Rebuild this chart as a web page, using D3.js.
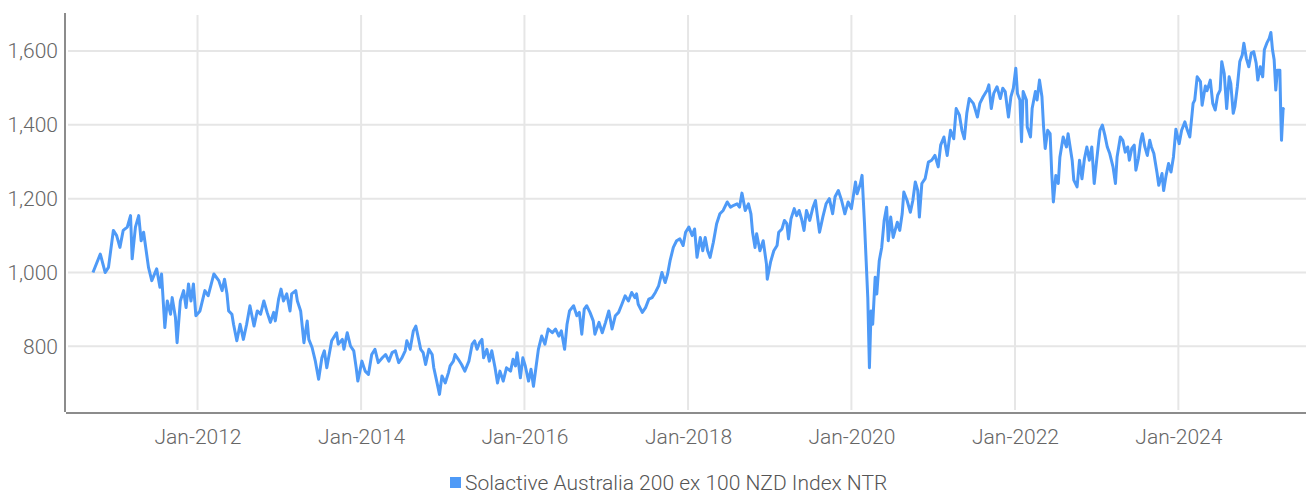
<!DOCTYPE html>
<html>
<head>
<meta charset="utf-8">
<script src="https://cdn.jsdelivr.net/npm/d3@7"></script>
<style>
  body { margin: 0; background: #fff; }
  svg text { font-family: Roboto, "Noto Sans", sans-serif; font-weight: 300; }
</style>
</head>
<body>
<div id="chart"></div>
<script>
// Index level, dates as decimal years
const years = [
  2010.72, 2010.81, 2010.87, 2010.91, 2010.97, 2011.01, 2011.05, 2011.09, 2011.14, 2011.18,
  2011.20, 2011.24, 2011.28, 2011.31, 2011.34, 2011.40, 2011.44, 2011.50, 2011.54, 2011.56,
  2011.60, 2011.63, 2011.67, 2011.69, 2011.73, 2011.75, 2011.79, 2011.83, 2011.86, 2011.89,
  2011.92, 2011.95, 2011.98, 2012.03, 2012.09, 2012.13, 2012.20, 2012.26, 2012.30, 2012.33,
  2012.36, 2012.38, 2012.42, 2012.44, 2012.48, 2012.52, 2012.56, 2012.60, 2012.64,
  2012.69, 2012.73, 2012.77, 2012.81, 2012.85, 2012.89, 2012.93, 2012.95, 2012.99, 2013.02,
  2013.05, 2013.09, 2013.13, 2013.15, 2013.20, 2013.22, 2013.26, 2013.30, 2013.34, 2013.36,
  2013.40, 2013.44, 2013.48, 2013.52, 2013.55, 2013.58, 2013.64, 2013.70, 2013.72, 2013.77,
  2013.79, 2013.83, 2013.87, 2013.91, 2013.94, 2013.96, 2014.01, 2014.05, 2014.09, 2014.13,
  2014.17, 2014.21, 2014.26, 2014.30, 2014.34, 2014.38, 2014.42, 2014.46, 2014.50, 2014.54,
  2014.56, 2014.60, 2014.64, 2014.67, 2014.70, 2014.73, 2014.76, 2014.79, 2014.83, 2014.87,
  2014.89, 2014.93, 2014.96, 2014.99, 2015.03, 2015.07,
  2015.09, 2015.13, 2015.15, 2015.19, 2015.23, 2015.27, 2015.32, 2015.36, 2015.39, 2015.42,
  2015.45, 2015.48, 2015.50, 2015.54, 2015.57, 2015.60, 2015.64, 2015.67, 2015.70, 2015.74,
  2015.78, 2015.83, 2015.86, 2015.89, 2015.91, 2015.95, 2015.98, 2016.01, 2016.05, 2016.08,
  2016.11, 2016.14, 2016.17, 2016.21, 2016.25, 2016.29, 2016.34, 2016.38, 2016.42, 2016.45,
  2016.49, 2016.52, 2016.55, 2016.60, 2016.64, 2016.67, 2016.70, 2016.73, 2016.76, 2016.80,
  2016.84, 2016.86, 2016.91, 2016.95, 2016.99, 2017.03, 2017.07, 2017.11, 2017.15, 2017.19,
  2017.23, 2017.27, 2017.31, 2017.35, 2017.37,
  2017.39, 2017.44, 2017.48, 2017.52, 2017.56, 2017.60, 2017.64, 2017.68, 2017.72, 2017.75,
  2017.78, 2017.82, 2017.86, 2017.90, 2017.94, 2017.97, 2018.01, 2018.05, 2018.08, 2018.11,
  2018.15, 2018.18, 2018.21, 2018.24, 2018.27, 2018.31, 2018.35, 2018.39, 2018.43, 2018.48,
  2018.52, 2018.56, 2018.60, 2018.63, 2018.66, 2018.70, 2018.74, 2018.77, 2018.79, 2018.82,
  2018.84, 2018.88, 2018.92, 2018.96, 2018.97, 2019.01, 2019.05, 2019.09, 2019.11, 2019.15,
  2019.18, 2019.21, 2019.23, 2019.26, 2019.30, 2019.33, 2019.36, 2019.39, 2019.42, 2019.45,
  2019.49, 2019.53, 2019.56, 2019.58, 2019.61, 2019.65, 2019.69, 2019.73,
  2019.77, 2019.80, 2019.84, 2019.88, 2019.92, 2019.96, 2020.00, 2020.05, 2020.07, 2020.11,
  2020.13, 2020.16, 2020.18, 2020.20, 2020.22, 2020.24, 2020.26, 2020.29, 2020.31, 2020.34,
  2020.37, 2020.40, 2020.43, 2020.45, 2020.48, 2020.51, 2020.56, 2020.59, 2020.62, 2020.64,
  2020.68, 2020.72, 2020.75, 2020.78, 2020.81, 2020.83, 2020.86, 2020.90, 2020.94, 2020.98,
  2021.02, 2021.06, 2021.09, 2021.13, 2021.17, 2021.21, 2021.25, 2021.28, 2021.32, 2021.35,
  2021.38, 2021.41, 2021.44, 2021.49, 2021.51, 2021.54, 2021.57, 2021.61, 2021.66, 2021.68,
  2021.71, 2021.74, 2021.78, 2021.82, 2021.85, 2021.88, 2021.92, 2021.95, 2021.98,
  2022.01, 2022.03, 2022.06, 2022.08, 2022.10, 2022.14, 2022.15, 2022.19, 2022.21, 2022.25,
  2022.27, 2022.30, 2022.33, 2022.35, 2022.37, 2022.40, 2022.43, 2022.45, 2022.47, 2022.50,
  2022.53, 2022.55, 2022.59, 2022.63, 2022.65, 2022.70, 2022.72, 2022.76, 2022.79, 2022.82,
  2022.85, 2022.88, 2022.91, 2022.94, 2022.97, 2023.00, 2023.04, 2023.07, 2023.10, 2023.13,
  2023.16, 2023.20, 2023.23, 2023.25, 2023.29, 2023.32, 2023.35, 2023.38, 2023.40, 2023.43,
  2023.46, 2023.48, 2023.51, 2023.54, 2023.56, 2023.59, 2023.62, 2023.65, 2023.67, 2023.70,
  2023.74, 2023.76, 2023.80, 2023.82, 2023.85, 2023.88, 2023.91, 2023.94, 2023.97, 2024.01,
  2024.04, 2024.08, 2024.11, 2024.14, 2024.18, 2024.20, 2024.23, 2024.27, 2024.29, 2024.33,
  2024.35, 2024.39, 2024.42, 2024.45, 2024.48, 2024.51, 2024.53, 2024.56, 2024.59, 2024.62,
  2024.64, 2024.67, 2024.69, 2024.72, 2024.75, 2024.78, 2024.80, 2024.83, 2024.86, 2024.89,
  2024.92, 2024.95, 2024.97, 2025.00, 2025.03, 2025.05, 2025.08, 2025.11, 2025.13, 2025.15,
  2025.17, 2025.19, 2025.21, 2025.24, 2025.25, 2025.26, 2025.28, 2025.29
];

const levels = [
  1000, 1050, 1000, 1014, 1114, 1100, 1068, 1114, 1123, 1154,
  1037, 1123, 1154, 1086, 1109, 1014, 978, 1010, 960, 996,
  851, 923, 887, 932, 878, 810, 923, 951, 905, 969,
  923, 969, 883, 896, 951, 937, 996, 978, 951, 982,
  942, 896, 887, 860, 815, 860, 819, 860, 910,
  855, 896, 887, 923, 892, 865, 892, 869, 928, 955,
  923, 942, 896, 942, 951, 923, 896, 810, 869, 819,
  797, 760, 711, 769, 788, 742, 815, 837, 806, 819,
  792, 837, 801, 788, 742, 706, 760, 733, 724, 778,
  792, 756, 769, 778, 760, 783, 788, 756, 769, 788,
  815, 792, 842, 855, 824, 792, 783, 751, 792, 778,
  742, 701, 670, 720, 701, 729,
  747, 760, 778, 765, 751, 733, 760, 806, 815, 792,
  810, 819, 769, 792, 760, 788, 742, 701, 733, 706,
  742, 733, 765, 747, 783, 715, 769, 747, 706, 738,
  692, 742, 792, 828, 806, 847, 837, 847, 828, 842,
  792, 860, 896, 910, 883, 892, 833, 901, 910, 892,
  869, 833, 865, 837, 865, 896, 847, 883, 892, 914,
  937, 923, 946, 932, 942,
  914, 892, 905, 928, 932, 946, 964, 1000, 973, 996,
  1032, 1068, 1086, 1091, 1073, 1109, 1123, 1100, 1118, 1041,
  1095, 1059, 1095, 1059, 1041, 1082, 1132, 1159, 1168, 1191,
  1177, 1182, 1186, 1177, 1215, 1168, 1186, 1159, 1109, 1068,
  1105, 1059, 1086, 1023, 982, 1028, 1059, 1073, 1109, 1118,
  1141, 1132, 1091, 1145, 1173, 1154, 1168, 1145, 1114, 1168,
  1141, 1177, 1195, 1159, 1109, 1150, 1186, 1200,
  1159, 1205, 1222, 1195, 1159, 1191, 1173, 1245, 1213, 1241,
  1263, 1132, 1032, 932, 742, 896, 860, 987, 942, 1032,
  1068, 1141, 1177, 1086, 1150, 1095, 1136, 1114, 1159, 1218,
  1195, 1163, 1195, 1245, 1222, 1150, 1241, 1254, 1299, 1304,
  1317, 1286, 1345, 1367, 1317, 1385, 1362, 1444, 1426, 1385,
  1362, 1431, 1471, 1458, 1444, 1421, 1458, 1476, 1494, 1508,
  1444, 1485, 1503, 1471, 1499, 1490, 1421, 1476, 1499,
  1553, 1485, 1467, 1354, 1490, 1467, 1394, 1367, 1444, 1490,
  1467, 1521, 1476, 1394, 1336, 1385, 1376, 1268, 1191, 1263,
  1241, 1313, 1367, 1340, 1376, 1304, 1250, 1232, 1304, 1254,
  1308, 1340, 1304, 1340, 1241, 1304, 1385, 1399, 1372, 1340,
  1322, 1286, 1241, 1313, 1367, 1358, 1326, 1340, 1304, 1336,
  1345, 1277, 1308, 1358, 1376, 1340, 1317, 1358, 1340, 1322,
  1268, 1236, 1268, 1222, 1263, 1295, 1272, 1313, 1388, 1349,
  1385, 1408, 1385, 1367, 1458, 1467, 1530, 1517, 1453, 1505,
  1492, 1521, 1458, 1440, 1480, 1494, 1571, 1539, 1444, 1530,
  1512, 1431, 1449, 1503, 1571, 1589, 1621, 1580, 1557, 1594,
  1598, 1567, 1521, 1557, 1530, 1603, 1621, 1634, 1650, 1603,
  1576, 1494, 1548, 1548, 1440, 1358, 1444, 1440
];

const seriesName = "Solactive Australia 200 ex 100 NZD Index NTR";
const yTicks = [800, 1000, 1200, 1400, 1600];
const yRange = [625, 1700];
const xRangeYears = [2010.39, 2025.56];

// decimal year -> Date
function yearToDate(t) {
  const y = Math.floor(t);
  const start = new Date(y, 0, 1), end = new Date(y + 1, 0, 1);
  return new Date(+start + (t - y) * (end - start));
}

const data = years.map((t, i) => ({ date: yearToDate(t), value: levels[i] }));
if (years.length !== levels.length) console.warn("length mismatch", years.length, levels.length);

const width = 1306;
const height = 498;
const margin = { top: 14, right: 0, bottom: 87, left: 66 };

const x = d3.scaleTime()
  .domain(xRangeYears.map(yearToDate))
  .range([margin.left, width - margin.right]);

const y = d3.scaleLinear()
  .domain(yRange)
  .range([height - margin.bottom, margin.top]);

const svg = d3.select("#chart")
  .append("svg")
  .attr("width", width)
  .attr("height", height)
  .attr("viewBox", [0, 0, width, height]);

const gridColor = "#e6e6e6";
const axisColor = "#8c8c8c";
const textColor = "#666";
const lineColor = "#4e9af7";

// horizontal grid
svg.append("g")
  .selectAll("line")
  .data(yTicks)
  .join("line")
  .attr("x1", margin.left + 2)
  .attr("x2", width)
  .attr("y1", d => y(d))
  .attr("y2", d => y(d))
  .attr("stroke", gridColor)
  .attr("stroke-width", 2);

// vertical grid at every other January
const xTicks = x.ticks(d3.timeYear.every(2));
svg.append("g")
  .selectAll("line")
  .data(xTicks)
  .join("line")
  .attr("x1", d => x(d))
  .attr("x2", d => x(d))
  .attr("y1", margin.top + 1)
  .attr("y2", height - margin.bottom - 1)
  .attr("stroke", gridColor)
  .attr("stroke-width", 2);

const yAxis = d3.axisLeft(y)
  .tickValues(yTicks)
  .tickFormat(d3.format(","))
  .tickSize(0)
  .tickPadding(7);

svg.append("g")
  .attr("transform", `translate(${margin.left - 1},0)`)
  .call(yAxis)
  .call(g => g.select(".domain").remove())
  .call(g => g.selectAll("text")
    .attr("fill", textColor)
    .style("font-size", "21px"));

const xAxis = d3.axisBottom(x)
  .tickValues(xTicks)
  .tickFormat(d3.timeFormat("%b-%Y"))
  .tickSize(0)
  .tickPadding(16);

svg.append("g")
  .attr("transform", `translate(0,${height - margin.bottom + 2})`)
  .call(xAxis)
  .call(g => g.select(".domain").remove())
  .call(g => g.selectAll("text")
    .attr("fill", textColor)
    .style("font-size", "21px"));

// axis lines
svg.append("line")
  .attr("x1", margin.left - 1).attr("x2", margin.left - 1)
  .attr("y1", margin.top - 1).attr("y2", height - margin.bottom + 1)
  .attr("stroke", axisColor).attr("stroke-width", 2);

svg.append("line")
  .attr("x1", margin.left).attr("x2", width)
  .attr("y1", height - margin.bottom + 2).attr("y2", height - margin.bottom + 2)
  .attr("stroke", axisColor).attr("stroke-width", 2);

// series
const line = d3.line()
  .x(d => x(d.date))
  .y(d => y(d.value));

svg.append("path")
  .datum(data)
  .attr("fill", "none")
  .attr("stroke", lineColor)
  .attr("stroke-width", 3)
  .attr("stroke-linejoin", "round")
  .attr("d", line);

// legend
const legend = svg.append("g")
  .attr("transform", "translate(450,483)");

legend.append("rect")
  .attr("x", 0)
  .attr("y", -6)
  .attr("width", 11)
  .attr("height", 11)
  .attr("fill", lineColor);

legend.append("text")
  .attr("x", 15)
  .attr("y", 0)
  .attr("dy", "0.35em")
  .attr("fill", "#555")
  .style("font-size", "21px")
  .text(seriesName);
</script>
</body>
</html>
